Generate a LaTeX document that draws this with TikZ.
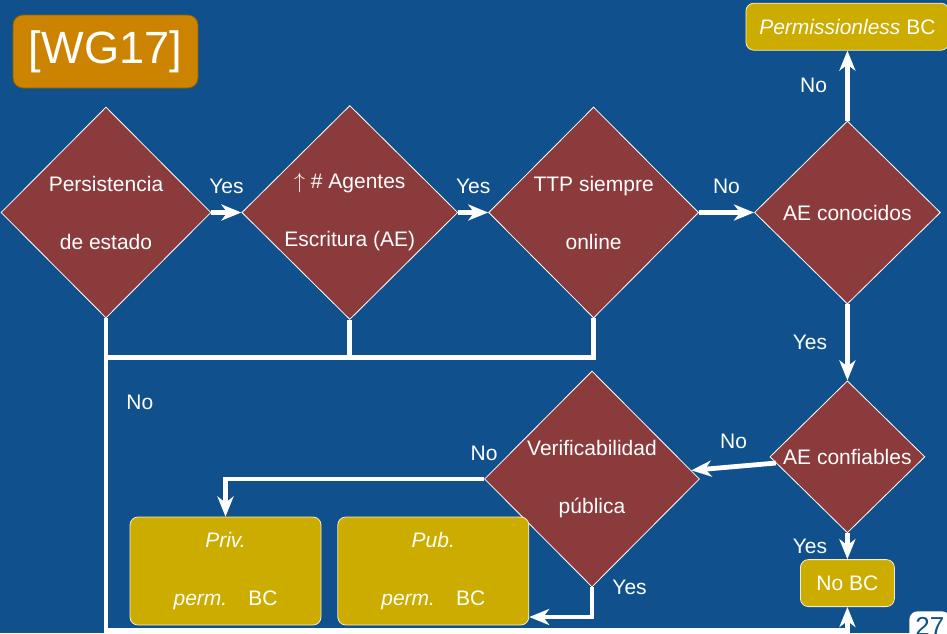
\documentclass[tikz,border=0pt]{standalone}
\usepackage{fontspec}
\setmainfont{Liberation Sans}
\usetikzlibrary{shapes.geometric, arrows.meta, positioning, calc}

\definecolor{slideblue}{RGB}{16,80,140}
\definecolor{decisionred}{RGB}{139,59,59}
\definecolor{resultgold}{RGB}{205,172,0}
\definecolor{citeorange}{RGB}{204,132,0}

\begin{document}
\begin{tikzpicture}[
        x=0.5pt, y=-0.5pt,
        font=\fontsize{10.5}{12.6}\selectfont,
        decision/.style={diamond, draw=white, line width=0.4pt, fill=decisionred, text=white, shape aspect=1, inner sep=0pt, align=center},
        result/.style={rectangle, draw=white!80!resultgold, line width=0.4pt, fill=resultgold, text=white, rounded corners=4pt, align=center},
        arrow/.style={-{Stealth[length=10pt, width=8pt, inset=3pt]}, line width=2.4pt, draw=white},
        link/.style={line width=2.4pt, draw=white},
        answer/.style={text=white, inner sep=1pt}
    ]

    % Slide background
    \fill[slideblue] (0,0) rectangle (947,633);
    \useasboundingbox (0,0) rectangle (947,633);
    \clip (0,0) rectangle (947,633);

    \node[rectangle, draw=citeorange!70!black, fill=citeorange, rounded corners=5pt, minimum width=92.5pt, minimum height=36.5pt, text=white, font=\fontsize{22.6}{26}\selectfont] (cite) at (105.5,51.5) {[WG17]};

    % Decisions
    \node[decision, minimum width=105pt, minimum height=105.5pt] (state) at (106,212.5) {Persistencia\\[16.4pt]de estado};
    \node[decision, minimum width=108pt, minimum height=107pt] (writers) [right=15pt of state] {$\uparrow$ \# Agentes\\[16.4pt]Escritura (AE)};
    \node[decision, minimum width=105pt, minimum height=105.5pt] (ttp) [right=15pt of writers] {TTP siempre\\[16.4pt]online};
    \node[decision, minimum width=93pt, minimum height=91.5pt] (known) [right=27.5pt of ttp] {AE conocidos};
    \node[decision, minimum width=77.5pt, minimum height=76pt] (trusted) [below=38pt of known] {AE confiables};
    \node[decision, minimum width=107.5pt, minimum height=108pt] (verif) at (592,479) {Verificabilidad\\[16.4pt]pública};

    % Outcomes
    \node[result, minimum width=101.5pt, minimum height=23.5pt] (perm) [above=35pt of known] {\textit{Permissionless} BC};
    \node[result, minimum width=47pt, minimum height=23.5pt] (nobc) [below=13pt of trusted] {No BC};
    \node[result, minimum width=95.5pt, minimum height=54pt] (priv) at (225.5,571) {\textit{Priv.}\\[16pt]\textit{perm.}\quad BC};
    \node[result, minimum width=95.5pt, minimum height=54pt] (pub) [right=8pt of priv] {\textit{Pub.}\\[16pt]\textit{perm.}\quad BC};

    \node[fill=white, text=slideblue, rounded corners=4pt, anchor=north west, inner sep=3pt, font=\fontsize{13}{15}\selectfont] (slideno) at (909,611) {27};

    % Connections
    \draw[arrow] (state) -- node[answer, above=7pt] {Yes} (writers);
    \draw[arrow] (writers) -- node[answer, above=7pt] {Yes} (ttp);
    \draw[arrow] (ttp) -- node[answer, above=7pt] {No} (known);
    \draw[arrow] (known.north) -- node[answer, left=8pt] {No} (known.north |- perm.south);
    \draw[arrow] (known) -- node[answer, left=8pt] {Yes} (trusted);
    \draw[arrow] (trusted) -- node[answer, left=8pt] {Yes} (nobc);
    \draw[arrow] (trusted) -- node[answer, above=7pt] {No} (verif);
    \draw[arrow] (verif.west) -| node[answer, pos=0, above=7pt] {No} (priv.north);
    \draw[arrow] (verif.south) |- node[answer, pos=0, right=8pt] {Yes} ([yshift=-23pt]pub.east);

    % Back to No BC
    \coordinate (bus) at ($(state.south)+(0,-19.5pt)$);
    \coordinate (floor) at ($(state.south)+(0,-156pt)$);
    \draw[link] (ttp.south) |- (bus);
    \draw[link] (writers.south) -- (writers.south |- bus);
    \draw[arrow] (state.south) -- node[answer, pos=0.27, right=8pt] {No} (floor) -| (nobc.south);

\end{tikzpicture}
\end{document}
